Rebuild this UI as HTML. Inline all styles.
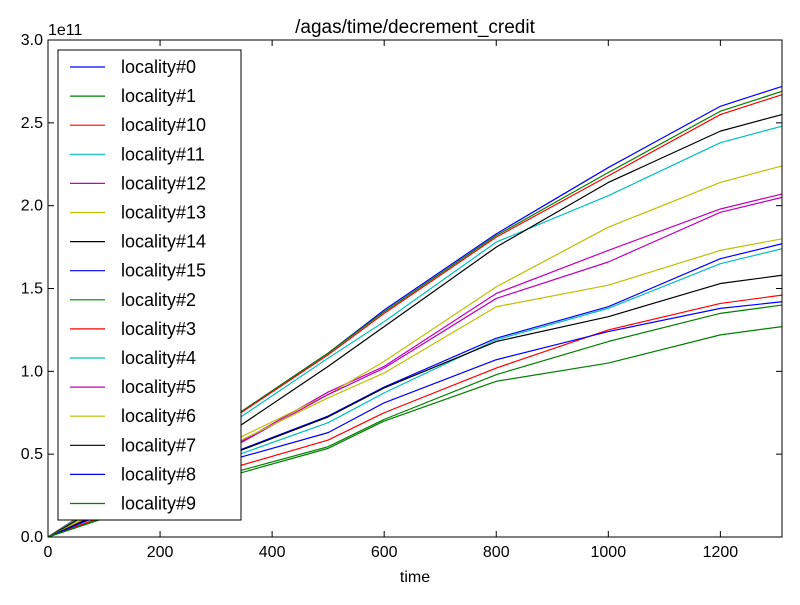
<!DOCTYPE html>
<html><head><meta charset="utf-8"><style>
body{margin:0;background:#fff;}
svg text{font-family:"Liberation Sans",sans-serif;}
</style></head><body>
<svg id="chart" width="800" height="600" xmlns="http://www.w3.org/2000/svg">
<rect width="800" height="600" fill="#fff"/>
<g id="plot"></g>
</svg>
<script>
const xs = [0, 342, 500, 600, 800, 1000, 1200, 1310];
const names = ["locality#0","locality#1","locality#10","locality#11","locality#12","locality#13","locality#14","locality#15","locality#2","locality#3","locality#4","locality#5","locality#6","locality#7","locality#8","locality#9"];
const s0 = [0,.75,1.11,1.37,1.83,2.23,2.60,2.72];
const s1 = [0,.75,1.11,1.36,1.82,2.20,2.57,2.69];
const s10 = [0,.745,1.10,1.35,1.81,2.18,2.55,2.67];
const s11 = [0,.72,1.08,1.30,1.78,2.06,2.38,2.48];
const s12 = [0,.57,.875,1.03,1.47,1.73,1.98,2.07];
const s13 = [0,.60,.86,1.06,1.51,1.87,2.14,2.24];
const s14 = [0,.67,1.03,1.27,1.75,2.14,2.45,2.55];
const s15 = [0,.525,.73,.905,1.20,1.39,1.68,1.77];
const s2 = [0,.40,.545,.71,.98,1.18,1.35,1.40];
const s3 = [0,.43,.585,.75,1.02,1.25,1.41,1.46];
const s4 = [0,.50,.69,.87,1.19,1.38,1.65,1.74];
const s5 = [0,.565,.86,1.02,1.44,1.66,1.96,2.05];
const s6 = [0,.58,.84,.99,1.39,1.52,1.73,1.80];
const s7 = [0,.52,.725,.90,1.18,1.33,1.53,1.58];
const s8 = [0,.48,.63,.81,1.07,1.24,1.38,1.42];
const s9 = [0,.385,.535,.70,.94,1.05,1.22,1.27];
const series = [s0,s1,s10,s11,s12,s13,s14,s15,s2,s3,s4,s5,s6,s7,s8,s9];
const xTicks = [0,200,400,600,800,1000,1200];
const yTicks = [0,0.5,1.0,1.5,2.0,2.5,3.0];
const colors = ["#0000ff","#008000","#ff0000","#00bfbf","#bf00bf","#bfbf00","#000000"];

const L=48,R=782,T=40,B=537,XMAX=1310,YMAX=3.0;
const X=v=>L+(v/XMAX)*(R-L);
const Y=v=>B-(v/YMAX)*(B-T);
const NS="http://www.w3.org/2000/svg";
const g=document.getElementById('plot');
function mk(tag,attrs,parent){const e=document.createElementNS(NS,tag);for(const k in attrs)e.setAttribute(k,attrs[k]);(parent||g).appendChild(e);return e;}

series.forEach((s,i)=>{
  const p=mk('polyline',{points:s.map((v,j)=>X(xs[j])+','+Y(v)).join(' '),fill:'none',stroke:colors[i%7],'stroke-width':1.2,'stroke-linejoin':'round'});
  
  
});
const fr=mk('rect',{x:L,y:T,width:R-L,height:B-T,fill:'none',stroke:'#000','stroke-width':1});


xTicks.forEach(v=>{
  mk('line',{x1:X(v),x2:X(v),y1:B,y2:B-6,stroke:'#000'});
  mk('line',{x1:X(v),x2:X(v),y1:T,y2:T+6,stroke:'#000'});
  const t=mk('text',{x:X(v),y:B+20,'text-anchor':'middle','font-size':16});
  t.textContent=v;
  
  
});
yTicks.forEach(v=>{
  mk('line',{x1:L,x2:L+6,y1:Y(v),y2:Y(v),stroke:'#000'});
  mk('line',{x1:R,x2:R-6,y1:Y(v),y2:Y(v),stroke:'#000'});
  const t=mk('text',{x:L-5,y:Y(v)+5,'text-anchor':'end','font-size':16});
  t.textContent=v.toFixed(1);
  
  
});
const ex=mk('text',{x:48,y:35,'font-size':16});ex.textContent='1e11';


const ti=mk('text',{x:415,y:33,'text-anchor':'middle','font-size':19});ti.textContent='/agas/time/decrement_credit';


const xl=mk('text',{x:415,y:582,'text-anchor':'middle','font-size':16});xl.textContent='time';


const lg=mk('g',{});


mk('rect',{x:58,y:50,width:183,height:470,fill:'#fff',stroke:'#000','stroke-width':1},lg);
names.forEach((n,i)=>{
  const y=67+i*29.1;
  const e=mk('g',{},lg);
  
  
  mk('line',{x1:70,x2:105,y1:y,y2:y,stroke:colors[i%7],'stroke-width':1.2},e);
  const t=mk('text',{x:121,y:y+6,'font-size':18},e);t.textContent=n;
});
</script>
</body></html>
